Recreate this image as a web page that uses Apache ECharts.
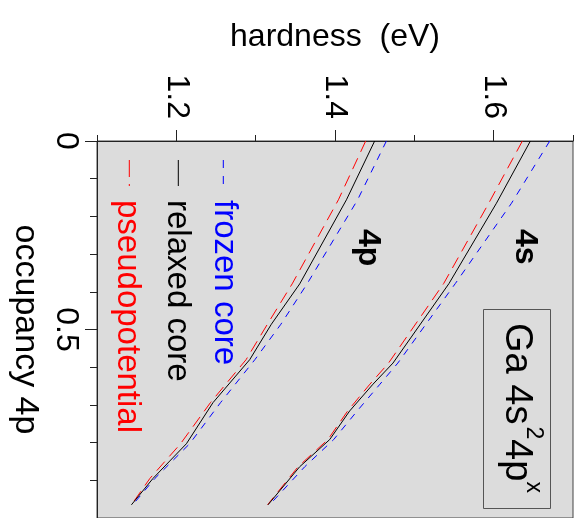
<!DOCTYPE html>
<html>
<head>
<meta charset="utf-8">
<script src="https://cdn.jsdelivr.net/npm/echarts@6.0.0/dist/echarts.min.js"></script>
<style>
  html, body { margin: 0; padding: 0; background: #fff; }
  #chart { width: 583px; height: 518px; }
</style>
</head>
<body>
<div id="chart"></div>
<script>
// occupancy of the 4p shell (vertical axis, grows downwards)
var occ4s = [0, 0.165, 0.378, 0.589, 0.645, 0.716, 0.792, 0.864, 0.965];
var occ4p = [0, 0.156, 0.379, 0.486, 0.580, 0.694, 0.803, 0.895, 0.965];

// hardness (eV)
var relaxed4s = [1.6463, 1.6035, 1.5437, 1.4731, 1.4479, 1.4185, 1.3933, 1.3555, 1.3156];
var frozen4s  = [1.6707, 1.6225, 1.5517, 1.4792, 1.4567, 1.4280, 1.3983, 1.3619, 1.3175];
var pseudo4s  = [1.6362, 1.5938, 1.5370, 1.4675, 1.4440, 1.4160, 1.3910, 1.3535, 1.3150];

var relaxed4p = [1.4500, 1.4144, 1.3555, 1.3198, 1.2925, 1.2462, 1.2127, 1.1706, 1.1434];
var frozen4p  = [1.4648, 1.4285, 1.3648, 1.3318, 1.2990, 1.2557, 1.2168, 1.1730, 1.1450];
var pseudo4p  = [1.4387, 1.4043, 1.3460, 1.3148, 1.2879, 1.2430, 1.2053, 1.1667, 1.1434];

var hardTicks = [1.2, 1.4, 1.6];
var hardMinor = [1.1, 1.3, 1.5, 1.7];
var occLabels = [0, 0.5];
var occMajor = [0, 0.5, 1];

var FONT = "Liberation Sans, Arial, Helvetica, sans-serif";
var RED = "#ff0000", BLUE = "#0000ff", BLACK = "#000000";

function pairs(occ, h) {
  return occ.map(function (o, i) { return [h[i], o]; });
}

function line(name, occ, h, color, dash) {
  return {
    name: name,
    type: "line",
    data: pairs(occ, h),
    showSymbol: false,
    silent: true,
    lineStyle: { color: color, width: 1, type: dash || "solid" },
    z: dash ? 2 : 3
  };
}

// rotated text helper (reads top to bottom)
function vtext(x, y, text, size, color, weight) {
  return {
    type: "text",
    x: x, y: y,
    rotation: -Math.PI / 2,
    style: {
      text: text, fill: color, fontSize: size, fontFamily: FONT,
      fontWeight: weight || "normal", align: "left", verticalAlign: "middle"
    },
    z: 10
  };
}

function vline(x, y1, y2, color, dash) {
  return {
    type: "line",
    shape: { x1: x, y1: y1, x2: x, y2: y2 },
    style: { stroke: color, lineWidth: 1, lineDash: dash || null },
    z: 10
  };
}

var chart = echarts.init(document.getElementById("chart"));

var option = {
  animation: false,
  backgroundColor: "#ffffff",
  grid: {
    left: 97, right: 10, top: 141, height: 382,
    show: true, backgroundColor: "#dcdcdc", borderColor: "#444", borderWidth: 1
  },
  xAxis: [
    {
      type: "value", position: "top", min: 1.1, max: 1.7,
      name: "hardness  (eV)", nameLocation: "middle", nameGap: 88,
      nameTextStyle: { fontSize: 32, fontFamily: FONT, color: BLACK },
      axisLine: { show: true, lineStyle: { color: "#222", width: 1 } },
      axisTick: { show: true, customValues: hardTicks, length: 11, lineStyle: { color: "#222" } },
      axisLabel: {
        show: true, customValues: hardTicks, rotate: -90, margin: 22,
        fontSize: 32, fontFamily: FONT, color: BLACK,
        formatter: function (v) { return v.toFixed(1); }
      },
      splitLine: { show: false }
    },
    {
      type: "value", position: "top", min: 1.1, max: 1.7,
      axisLine: { show: false },
      axisTick: { show: true, customValues: hardMinor, length: 6, lineStyle: { color: "#222" } },
      axisLabel: { show: false },
      splitLine: { show: false }
    }
  ],
  yAxis: [
    {
      type: "value", inverse: true, min: 0, max: 1, interval: 0.1,
      name: "occupancy 4p", nameLocation: "middle", nameRotate: -90, nameGap: 53,
      nameTextStyle: { fontSize: 34, fontFamily: FONT, color: BLACK },
      axisLine: { show: true, lineStyle: { color: "#222", width: 1 } },
      axisTick: { show: true, length: 7, lineStyle: { color: "#222" } },
      axisLabel: {
        show: true, customValues: occLabels, rotate: -90, margin: 15,
        fontSize: 32, fontFamily: FONT, color: BLACK,
        formatter: function (v) { return v === 0 ? "0" : String(v); }
      },
      splitLine: { show: false }
    },
    {
      type: "value", inverse: true, min: 0, max: 1, position: "left",
      axisLine: { show: false },
      axisTick: { show: true, customValues: occMajor, length: 12, lineStyle: { color: "#222" } },
      axisLabel: { show: false },
      splitLine: { show: false }
    }
  ],
  series: [
    line("4s frozen core", occ4s, frozen4s, BLUE, [7, 7]),
    line("4s pseudopotential", occ4s, pseudo4s, RED, [12, 7]),
    line("4s relaxed core", occ4s, relaxed4s, BLACK),
    line("4p frozen core", occ4p, frozen4p, BLUE, [7, 7]),
    line("4p pseudopotential", occ4p, pseudo4p, RED, [12, 7]),
    line("4p relaxed core", occ4p, relaxed4p, BLACK)
  ],
  graphic: [
    // legend
    vline(223.3, 160, 186, BLUE, [8, 8]),
    vtext(224, 200, "frozen core", 33, BLUE),
    vline(178.3, 160, 186, BLACK),
    vtext(177.5, 200, "relaxed core", 33, BLACK),
    vline(129.3, 160, 186, RED, [17, 7]),
    vtext(127.5, 200, "pseudopotential", 33, RED),
    // curve labels
    vtext(524.7, 229, "4s", 32, BLACK, "bold"),
    vtext(367.5, 229, "4p", 32, BLACK, "bold"),
    // configuration box
    {
      type: "rect",
      shape: { x: 483.5, y: 309.5, width: 67, height: 199 },
      style: { fill: "none", stroke: "#555", lineWidth: 1 },
      z: 10
    },
    vtext(516, 323, "Ga 4s", 38, BLACK),
    vtext(533, 426.5, "2", 23, BLACK),
    vtext(516, 439, "4p", 38, BLACK),
    vtext(533, 481.5, "x", 23, BLACK)
  ]
};

chart.setOption(option);
</script>
</body>
</html>
